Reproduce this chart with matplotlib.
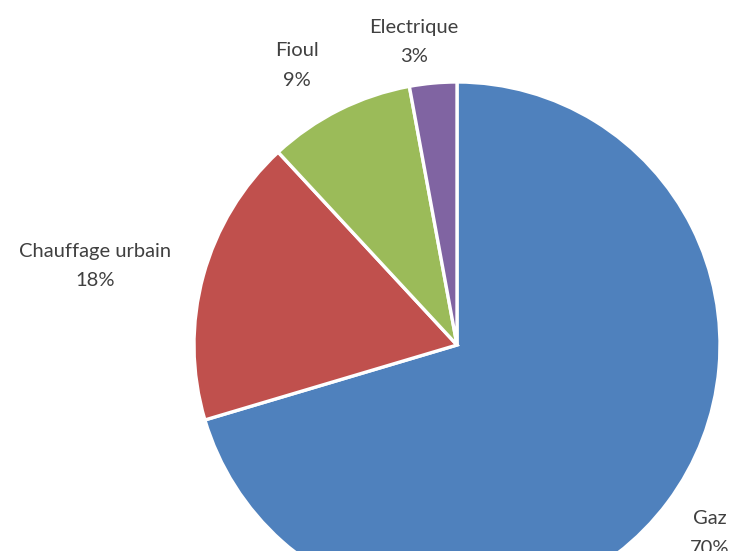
import matplotlib
matplotlib.use("Agg")
import matplotlib.pyplot as plt
import matplotlib.transforms as mtransforms

categories = ["Gaz", "Chauffage urbain", "Fioul", "Electrique"]
values = [70.4, 17.7, 9.0, 2.9]
pct_labels = ["70%", "18%", "9%", "3%"]
colors = ["#4F81BD", "#C0504D", "#9BBB59", "#8064A2"]

W, H = 733, 551
fig = plt.figure(figsize=(W / 100, H / 100), dpi=100)
ax = fig.add_axes([0, 0, 1, 1])

cx, cy, r = 457, 345, 263
wedges, _ = ax.pie(values, colors=colors, startangle=90, counterclock=False,
                   center=(cx, H - cy), radius=r,
                   wedgeprops=dict(edgecolor="white", linewidth=2.4))
flip = mtransforms.Affine2D().scale(1, -1).translate(0, H)
for w in wedges:
    w.set_transform(flip + ax.transData)
ax.set_xlim(0, W)
ax.set_ylim(H, 0)
ax.set_aspect("equal")
ax.axis("off")

label_pos = {
    "Gaz": (710, 518),
    "Chauffage urbain": (95, 251),
    "Fioul": (297, 51),
    "Electrique": (414, 27),
}
for cat, pct in zip(categories, pct_labels):
    x, y = label_pos[cat]
    ax.text(x, y, cat, ha="center", va="center", fontsize=14.5,
            family="Lato", color="#404040", clip_on=False)
    ax.text(x, y + 30, pct, ha="center", va="center", fontsize=14.5,
            family="Lato", color="#404040", clip_on=False)

fig.savefig("out.png", dpi=100)
